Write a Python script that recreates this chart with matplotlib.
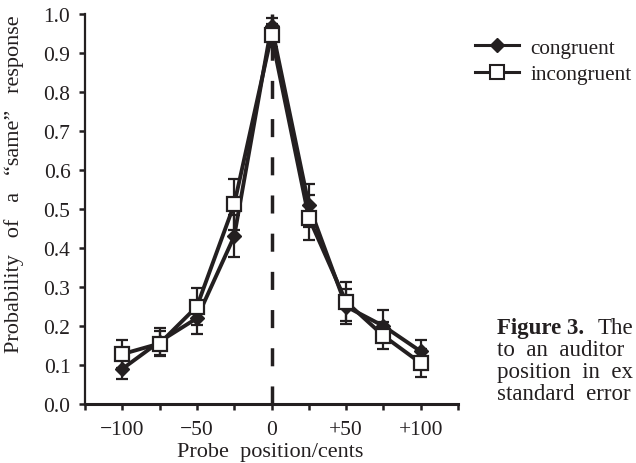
import matplotlib
matplotlib.use("Agg")
import matplotlib.pyplot as plt
from matplotlib.lines import Line2D

# ---- data ----
probe_pos = [-100, -75, -50, -25, 0, 25, 50, 75, 100]
congruent = [0.09, 0.16, 0.22, 0.43, 0.97, 0.51, 0.25, 0.20, 0.135]
congruent_se = [0.026, 0.035, 0.04, 0.054, 0.02, 0.055, 0.045, 0.04, 0.03]
incongruent = [0.128, 0.155, 0.25, 0.512, 0.945, 0.478, 0.262, 0.175, 0.105]
incongruent_se = [0.035, 0.033, 0.047, 0.065, 0.03, 0.057, 0.05, 0.035, 0.035]
x_ticks = [-125, -100, -75, -50, -25, 0, 25, 50, 75, 100, 125]
x_ticklabels = ["", "\u2212100", "", "\u221250", "", "0", "", "+50", "", "+100", ""]
y_ticks = [0.0, 0.1, 0.2, 0.3, 0.4, 0.5, 0.6, 0.7, 0.8, 0.9, 1.0]
y_ticklabels = ["0.0", "0.1", "0.2", "0.3", "0.4", "0.5", "0.6", "0.7", "0.8", "0.9", "1.0"]
series_names = ["congruent", "incongruent"]

INK = "#231f20"
plt.rcParams["font.family"] = ["Liberation Serif", "DejaVu Serif"]
plt.rcParams["text.color"] = INK

W, H = 636, 464
fig = plt.figure(figsize=(W / 100, H / 100), dpi=100)
ax = fig.add_axes([85 / W, 59 / H, 373 / W, 390 / H])

# dashed reference line at 0
ax.axvline(0, ymin=0, ymax=1, color=INK, lw=2.5, dashes=(5.2, 5.8), zorder=1)

ax.errorbar(probe_pos, congruent, yerr=congruent_se, color=INK, lw=2.8,
            marker="D", ms=7.5, mfc=INK, mec=INK, ecolor=INK, elinewidth=1.6,
            capsize=4.3, capthick=1.6, zorder=3, clip_on=False)
ax.errorbar(probe_pos, incongruent, yerr=incongruent_se, color=INK, lw=2.8,
            marker="s", ms=10, mfc="white", mec=INK, mew=1.6, ecolor=INK,
            elinewidth=1.6, capsize=4.3, capthick=1.6, zorder=4, clip_on=False)

ax.set_xlim(-125, 125)
ax.set_ylim(0, 1.0)
ax.set_xticks(x_ticks)
ax.set_xticklabels(x_ticklabels)
ax.set_yticks(y_ticks)
ax.set_yticklabels(y_ticklabels)
for s in ("top", "right"):
    ax.spines[s].set_visible(False)
ax.spines["left"].set_linewidth(1.6)
ax.spines["bottom"].set_linewidth(2.2)
for s in ("left", "bottom"):
    ax.spines[s].set_color(INK)
ax.tick_params(axis="both", direction="out", length=4.5, width=1.8, colors=INK,
               labelsize=15.5, labelcolor=INK)
ax.tick_params(axis="y", pad=6)
ax.tick_params(axis="x", pad=7)

# axis labels
fig.text(14 / W, 1 - 184 / H, "Probability   of   a   \u201csame\u201d   response",
         rotation=90, ha="center", va="center", fontsize=16)
fig.text(270 / W, 1 - 457 / H, "Probe  position/cents", ha="center",
         va="baseline", fontsize=16)

# legend
handles = [
    Line2D([], [], color=INK, lw=2.2, marker="D", ms=7, mfc=INK, mec=INK),
    Line2D([], [], color=INK, lw=2.2, marker="s", ms=9.5, mfc="white", mec=INK, mew=1.5),
]
fig.legend(handles, series_names, loc="center left",
           bbox_to_anchor=(475 / W, 1 - 62 / H), frameon=False, fontsize=15.3,
           handlelength=2.05, handletextpad=0.55, labelspacing=0.3,
           borderpad=0, borderaxespad=0)

# caption (partially cut off at the right edge in the source)
cx = 497 / W
fs_cap = 16.5
fig.text(cx, 1 - 334 / H, "Figure 3.", fontweight="bold", ha="left",
         va="baseline", fontsize=fs_cap)
fig.text(598 / W, 1 - 334 / H, "The", ha="left", va="baseline", fontsize=fs_cap)
fig.text(cx, 1 - 356 / H, "to  an  auditor", ha="left", va="baseline", fontsize=fs_cap)
fig.text(cx, 1 - 378 / H, "position  in  ex", ha="left", va="baseline", fontsize=fs_cap)
fig.text(cx, 1 - 400 / H, "standard  error", ha="left", va="baseline", fontsize=fs_cap)

fig.savefig("out.png", dpi=100)
